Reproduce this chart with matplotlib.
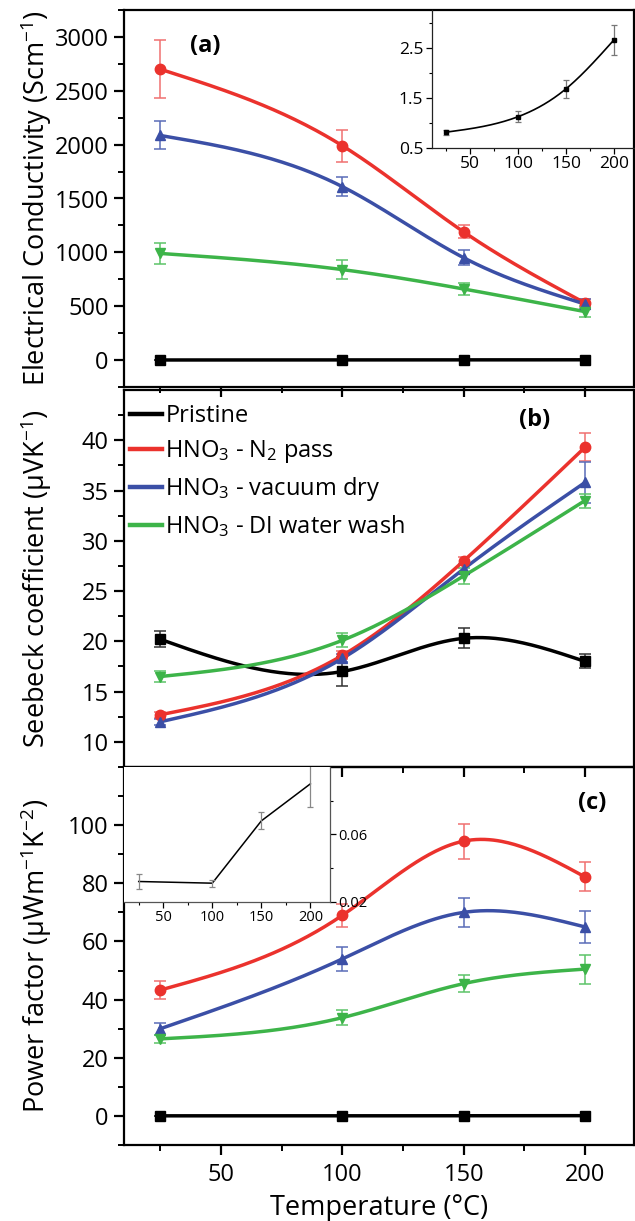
import numpy as np
import matplotlib
matplotlib.use("Agg")
import matplotlib.pyplot as plt
from matplotlib.ticker import MultipleLocator, FixedLocator

plt.rcParams['font.family'] = ['Open Sans', 'DejaVu Sans']
plt.rcParams['mathtext.fontset'] = 'custom'
plt.rcParams['mathtext.rm'] = 'Open Sans'
plt.rcParams['mathtext.it'] = 'Open Sans'
plt.rcParams['mathtext.bf'] = 'Open Sans:bold'
plt.rcParams['mathtext.default'] = 'regular'

# ---------------- data ----------------
temperature = [25, 100, 150, 200]
series_names = ["Pristine", "HNO$_3$ - N$_2$ pass", "HNO$_3$ - vacuum dry", "HNO$_3$ - DI water wash"]

# (a) electrical conductivity (S/cm)
cond_pristine = [0.81, 1.12, 1.68, 2.66]
cond_pristine_err = [0.05, 0.11, 0.18, 0.30]
cond_n2 = [2700, 1990, 1190, 530]
cond_n2_err = [270, 150, 60, 40]
cond_vac = [2085, 1610, 950, 520]
cond_vac_err = [130, 90, 70, 50]
cond_di = [990, 840, 660, 450]
cond_di_err = [100, 90, 60, 50]

# (b) Seebeck coefficient (uV/K)
seeb_pristine = [20.2, 17.0, 20.3, 18.0]
seeb_pristine_err = [0.8, 1.4, 1.0, 0.7]
seeb_n2 = [12.7, 18.6, 28.0, 39.3]
seeb_n2_err = [0.3, 0.4, 0.4, 1.4]
seeb_vac = [12.0, 18.3, 27.2, 35.8]
seeb_vac_err = [0.3, 0.4, 0.5, 2.0]
seeb_di = [16.5, 20.1, 26.5, 34.0]
seeb_di_err = [0.5, 0.7, 0.8, 0.7]

# (c) power factor (uW m^-1 K^-2)
pf_pristine = [0.032, 0.031, 0.068, 0.090]
pf_pristine_err = [0.0045, 0.002, 0.005, 0.014]
pf_n2 = [43.3, 69.0, 94.5, 82.2]
pf_n2_err = [3.0, 4.0, 6.0, 5.0]
pf_vac = [30.0, 54.0, 70.0, 65.0]
pf_vac_err = [2.0, 4.0, 5.0, 5.5]
pf_di = [26.5, 33.8, 45.5, 50.5]
pf_di_err = [1.5, 2.5, 3.0, 5.0]

colors = ['black', '#eb322d', '#3b4fa6', '#3db449']
ecolors = ['#333333', '#f07070', '#5a6cb8', '#5cc468']
markers = ['s', 'o', '^', 'v']


def natural_spline(x, y, num=200):
    x = np.asarray(x, float)
    y = np.asarray(y, float)
    n = len(x)
    h = np.diff(x)
    A = np.zeros((n, n))
    b = np.zeros(n)
    A[0, 0] = 1
    A[-1, -1] = 1
    for i in range(1, n - 1):
        A[i, i - 1] = h[i - 1]
        A[i, i] = 2 * (h[i - 1] + h[i])
        A[i, i + 1] = h[i]
        b[i] = 3 * ((y[i + 1] - y[i]) / h[i] - (y[i] - y[i - 1]) / h[i - 1])
    c = np.linalg.solve(A, b)
    xs = np.linspace(x[0], x[-1], num)
    idx = np.clip(np.searchsorted(x, xs, side='right') - 1, 0, n - 2)
    t = xs - x[idx]
    hi = h[idx]
    bi = (y[idx + 1] - y[idx]) / hi - hi * (2 * c[idx] + c[idx + 1]) / 3
    di = (c[idx + 1] - c[idx]) / (3 * hi)
    ys = y[idx] + bi * t + c[idx] * t ** 2 + di * t ** 3
    return xs, ys


W, H = 635, 1221
fig = plt.figure(figsize=(W / 100, H / 100), dpi=100)

left = 124 / W
width = (633.5 - 124) / W


def ax_rect(top_px, bot_px):
    return [left, 1 - bot_px / H, width, (bot_px - top_px) / H]


ax_a = fig.add_axes(ax_rect(10, 387), facecolor='none')
ax_b = fig.add_axes(ax_rect(390, 767), facecolor='none')
ax_c = fig.add_axes(ax_rect(767, 1145), facecolor='none')

TICK_FS = 17
LABEL_FS = 19.5
LABEL_X = -0.138


def style_main(ax):
    for s in ax.spines.values():
        s.set_linewidth(1.6)
    ax.set_xlim(10, 220)
    ax.xaxis.set_major_locator(MultipleLocator(50))
    ax.xaxis.set_minor_locator(MultipleLocator(25))
    ax.tick_params(which='major', direction='out', length=7, width=1.6, labelsize=TICK_FS, pad=4)
    ax.tick_params(which='minor', direction='out', length=4.5, width=1.4)
    ax.tick_params(axis='x', which='both', top=False)
    ax.tick_params(axis='y', which='both', right=False)


def plot_set(ax, data, errs, smooth=True):
    for k in range(4):
        if smooth:
            xs, ys = natural_spline(temperature, data[k])
        else:
            xs, ys = temperature, data[k]
        ax.plot(xs, ys, color=colors[k], lw=2.5, zorder=3, label=series_names[k])
        ax.errorbar(temperature, data[k], yerr=errs[k], fmt='none', ecolor=ecolors[k],
                    elinewidth=1.1, capsize=4, capthick=1.1, zorder=2)
        ax.plot(temperature, data[k], linestyle='none', marker=markers[k], color=colors[k],
                markersize=7.5, zorder=4)


# (a)
plot_set(ax_a, [cond_pristine, cond_n2, cond_vac, cond_di],
         [cond_pristine_err, cond_n2_err, cond_vac_err, cond_di_err])
style_main(ax_a)
ax_a.set_ylim(-250, 3250)
ax_a.yaxis.set_major_locator(FixedLocator([0, 500, 1000, 1500, 2000, 2500, 3000]))
ax_a.yaxis.set_minor_locator(FixedLocator([-250, 250, 750, 1250, 1750, 2250, 2750, 3250]))
ax_a.tick_params(axis='x', labelbottom=False)
ax_a.set_ylabel("Electrical Conductivity (Scm$^{-1}$)", fontsize=LABEL_FS)
ax_a.yaxis.set_label_coords(LABEL_X, 0.5)
ax_a.text(0.159, 0.905, "(a)", transform=ax_a.transAxes, fontsize=17, fontweight='bold',
          ha='center', va='center')

# (b)
plot_set(ax_b, [seeb_pristine, seeb_n2, seeb_vac, seeb_di],
         [seeb_pristine_err, seeb_n2_err, seeb_vac_err, seeb_di_err])
style_main(ax_b)
ax_b.set_ylim(7.5, 45)
ax_b.yaxis.set_major_locator(FixedLocator([10, 15, 20, 25, 30, 35, 40]))
ax_b.yaxis.set_minor_locator(FixedLocator([7.5, 12.5, 17.5, 22.5, 27.5, 32.5, 37.5, 42.5]))
ax_b.tick_params(axis='x', labelbottom=False)
ax_b.set_ylabel("Seebeck coefficient (μVK$^{-1}$)", fontsize=LABEL_FS)
ax_b.yaxis.set_label_coords(LABEL_X, 0.5)
ax_b.text(0.806, 0.92, "(b)", transform=ax_b.transAxes, fontsize=17, fontweight='bold',
          ha='center', va='center')
handles = [plt.Line2D([], [], color=c, lw=3.2) for c in colors]
ax_b.legend(handles, series_names, loc='upper left', bbox_to_anchor=(0.0, 0.978),
            frameon=False, fontsize=17, handlelength=1.35, handletextpad=0.15,
            labelspacing=0.42, borderaxespad=0.0, borderpad=0.25)

# (c)
plot_set(ax_c, [pf_pristine, pf_n2, pf_vac, pf_di],
         [pf_pristine_err, pf_n2_err, pf_vac_err, pf_di_err])
style_main(ax_c)
ax_c.set_ylim(-10, 120)
ax_c.yaxis.set_major_locator(FixedLocator([0, 20, 40, 60, 80, 100]))
ax_c.yaxis.set_minor_locator(FixedLocator([-10, 10, 30, 50, 70, 90, 110]))
ax_c.tick_params(axis='x', which='major', pad=6)
ax_c.set_ylabel("Power factor (μWm$^{-1}$K$^{-2}$)", fontsize=LABEL_FS)
ax_c.yaxis.set_label_coords(LABEL_X, 0.5)
ax_c.set_xlabel("Temperature (°C)", fontsize=LABEL_FS, labelpad=5)
ax_c.text(0.918, 0.905, "(c)", transform=ax_c.transAxes, fontsize=17, fontweight='bold',
          ha='center', va='center')

# inset (a)
ia = fig.add_axes([431.7 / W, 1 - 147.7 / H, (633.5 - 431.7) / W, (147.7 - 10) / H])
xs, ys = natural_spline(temperature, cond_pristine)
ia.plot(xs, ys, color='black', lw=1.2)
ia.errorbar(temperature, cond_pristine, yerr=cond_pristine_err, fmt='s', color='black',
            markersize=2.5, ecolor='#777777', elinewidth=0.9, capsize=2.5, capthick=0.9)
ia.set_xlim(10, 220)
ia.set_ylim(0.5, 3.25)
ia.xaxis.set_major_locator(MultipleLocator(50))
ia.xaxis.set_minor_locator(MultipleLocator(25))
ia.yaxis.set_major_locator(FixedLocator([0.5, 1.5, 2.5]))
ia.yaxis.set_minor_locator(FixedLocator([1.0, 2.0, 3.0]))
ia.spines['top'].set_visible(False)
ia.spines['right'].set_visible(False)
for s in ['left', 'bottom']:
    ia.spines[s].set_linewidth(0.9)
    ia.spines[s].set_color('#222222')
ia.tick_params(which='major', direction='out', length=4, width=0.9, labelsize=12.5, pad=2)
ia.tick_params(which='minor', direction='out', length=2.5, width=0.8)
ia.patch.set_alpha(0)

# inset (c)
ic = fig.add_axes([124 / W, 1 - 901.7 / H, (330 - 124) / W, (901.7 - 767) / H])
ic.plot(temperature, pf_pristine, color='black', lw=1.1)
ic.errorbar(temperature, pf_pristine, yerr=pf_pristine_err, fmt='none',
            ecolor='#888888', elinewidth=0.9, capsize=2.5, capthick=0.9)
ic.set_xlim(10, 220)
ic.set_ylim(0.02, 0.10)
ic.xaxis.set_major_locator(MultipleLocator(50))
ic.xaxis.set_minor_locator(MultipleLocator(25))
ic.yaxis.set_major_locator(FixedLocator([0.02, 0.06]))
ic.yaxis.set_minor_locator(FixedLocator([0.04, 0.08]))
ic.yaxis.tick_right()
ic.spines['top'].set_visible(False)
ic.spines['left'].set_visible(False)
for s in ['right', 'bottom']:
    ic.spines[s].set_linewidth(0.9)
    ic.spines[s].set_color('#555555')
ic.tick_params(which='major', direction='out', length=4, width=0.9, labelsize=10.5, pad=2)
ic.tick_params(which='minor', direction='out', length=2.5, width=0.8)
ic.set_yticklabels(['0.02', '0.06'])
ic.patch.set_facecolor('white')

fig.savefig("out.png", dpi=100)
